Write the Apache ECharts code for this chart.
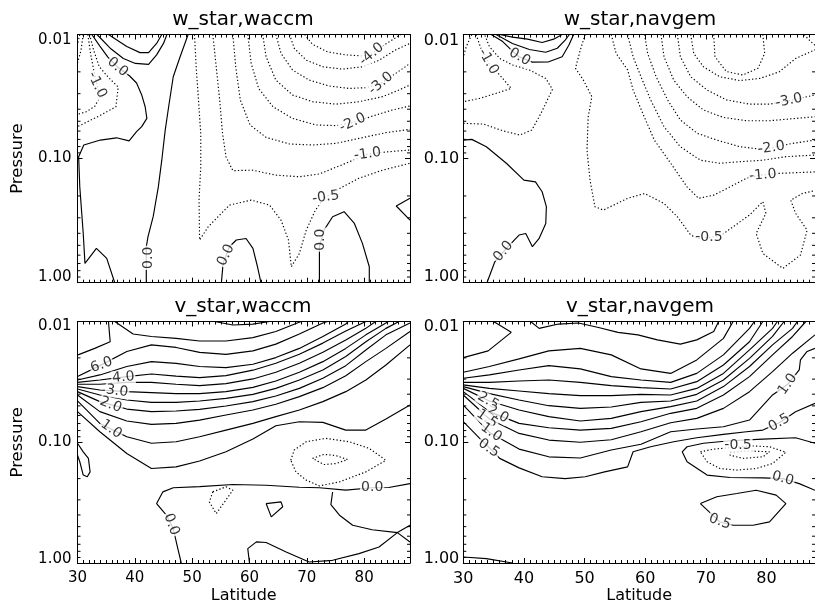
<!DOCTYPE html>
<html><head><meta charset="utf-8">
<script src="https://cdn.jsdelivr.net/npm/echarts@6/dist/echarts.min.js"></script>
<style>html,body{margin:0;padding:0;background:#fff}#c{width:815px;height:611px}</style>
</head><body><div id="c"></div>
<script>
// ---------- axes / ticks ----------
const LAT_MIN = 30, LAT_MAX = 88;
const LAT_TICKS = [30, 40, 50, 60, 70, 80];
const P_TICKS = [0.01, 0.10, 1.00];
const P_MINOR = [0.02,0.03,0.04,0.05,0.06,0.07,0.08,0.09,0.2,0.3,0.4,0.5,0.6,0.7,0.8,0.9];
const TITLES = ['w_star,waccm', 'w_star,navgem', 'v_star,waccm', 'v_star,navgem'];

// ---------- w_star, waccm : solid (>=0) contours [lat, pressure] ----------
const ww_p1 = [[35.4,0.0100],[38.6,0.0125],[40.9,0.0140],[42.4,0.0140],[43.8,0.0118],[44.7,0.0100]];
const ww_p2 = [[33.4,0.0100],[35.7,0.0129],[38.0,0.0156],[40.1,0.0171],[42.4,0.0174],[43.8,0.0146],[45.0,0.0118],[45.6,0.0100]];
const ww_z1 = [[32.5,0.0100],[33.9,0.0124],[35.3,0.0152],[37.0,0.0183],[39.1,0.0216],[40.3,0.0246],[41.2,0.0307],[41.8,0.0382],[42.1,0.0474],[41.2,0.0553],[40.3,0.0607],[39.0,0.0720],[36.8,0.0680],[34.0,0.0709],[31.1,0.0777],[30.2,0.0965],[30.4,0.169],[31.0,0.401],[31.3,0.699],[33.3,0.529],[35.1,0.637],[36.5,1.0]];
const ww_z2 = [[49.3,0.0100],[47.9,0.0151],[46.7,0.0219],[45.9,0.0382],[45.3,0.0589],[44.7,0.103],[44.1,0.169],[43.2,0.294],[42.3,0.426],[42.0,0.513],[42.0,1.0]];
const ww_z3 = [[55.1,1.0],[55.4,0.699],[56.5,0.513],[57.7,0.453],[59.4,0.440],[60.6,0.529],[61.4,0.744],[62.0,1.0]];
const ww_z4 = [[72.2,1.0],[72.2,0.513],[73.0,0.377],[74.5,0.294],[76.5,0.268],[78.3,0.333],[79.7,0.482],[80.9,0.744],[80.9,1.0]];
const ww_z5 = [[88,0.209],[85.6,0.241],[88,0.313]];
// dotted (<0)
const ww_n1 = [[30.4,0.0100],[30.0,0.0120]];
const ww_n2 = [[31.0,0.0100],[30.6,0.0135],[30.0,0.0170]];
const ww_n3 = [[31.8,0.0100],[32.3,0.0145],[32.9,0.0200],[33.4,0.0255],[33.9,0.0320],[33.0,0.0380],[31.5,0.0420],[30.0,0.0440]];
const ww_n4 = [[32.1,0.0100],[32.8,0.0133],[33.8,0.0182],[35.4,0.0222],[37.1,0.0265],[36.7,0.0382],[33.9,0.0450],[30.0,0.0553]];
const ww_m05 = [[50.4,0.0100],[50.7,0.0182],[51.1,0.0337],[51.5,0.0626],[51.5,0.116],[51.2,0.216],[51.3,0.453],[52.8,0.354],[56.5,0.237],[60.3,0.216],[63.5,0.237],[65.5,0.313],[66.8,0.453],[67.3,0.744],[68.7,0.581],[69.9,0.377],[71.5,0.260],[73.0,0.209],[75.7,0.174],[79.1,0.144],[83.2,0.124],[88,0.109]];
const ww_m10 = [[53.6,0.0100],[54.2,0.0182],[54.8,0.0337],[55.3,0.0626],[55.9,0.0965],[57.1,0.125],[60.6,0.124],[64.6,0.136],[68.7,0.140],[72.2,0.133],[76.8,0.109],[80.6,0.0919],[84.4,0.0879],[88,0.0853]];
const ww_m15 = [[57.1,0.0100],[57.6,0.0182],[58.4,0.0337],[60.1,0.0536],[62.9,0.0675],[67.0,0.0763],[71.0,0.0777],[75.1,0.0754],[79.1,0.0687],[83.8,0.0618],[88,0.0581]];
const ww_m20 = [[59.7,0.0100],[60.3,0.0171],[61.6,0.0272],[64.1,0.0382],[67.5,0.0474],[71.6,0.0536],[75.1,0.0542],[78.0,0.0513],[81.5,0.0454],[84.9,0.0406],[88,0.0377]];
const ww_m25 = [[62.3,0.0100],[62.9,0.0151],[64.6,0.0233],[67.5,0.0307],[71.0,0.0348],[75.1,0.0364],[79.1,0.0348],[83.2,0.0317],[86.1,0.0280],[88,0.0255]];
const ww_m30 = [[64.6,0.0100],[65.5,0.0142],[67.5,0.0193],[70.4,0.0233],[73.9,0.0260],[77.4,0.0272],[80.3,0.0268],[82.9,0.0248],[85.5,0.0206],[88,0.0171]];
const ww_m35 = [[67.0,0.0100],[67.8,0.0129],[69.9,0.0161],[72.8,0.0182],[76.2,0.0190],[79.7,0.0182],[82.6,0.0161],[85.5,0.0133],[88,0.0118]];
const ww_m40 = [[69.6,0.0100],[71.0,0.0120],[73.6,0.0138],[76.8,0.0146],[79.7,0.0149],[81.3,0.0144],[83.8,0.0119],[86.4,0.0100]];
const ww_labels = [[37.0,0.0183,'0.0',-40],[42.3,0.63,'0.0',90],[55.9,0.60,'0.0',65],[72.3,0.45,'0.0',90],[33.4,0.0255,'-1.0',-65],[73.3,0.205,'-0.5',8],[80.6,0.092,'-1.0',8],[78.0,0.0513,'-2.0',25],[82.9,0.0248,'-3.0',40],[81.3,0.0144,'-4.0',40]];

// ---------- w_star, navgem ----------
const wn_p1 = [[36.0,0.0100],[38.1,0.0105],[40.6,0.0109],[43.0,0.0116],[44.9,0.0109],[46.3,0.0100]];
const wn_p2 = [[35.4,0.0100],[38.1,0.0118],[40.9,0.0132],[43.6,0.0139],[45.5,0.0129],[46.8,0.0111],[47.5,0.0100]];
const wn_z1 = [[34.6,0.0100],[36.5,0.0114],[37.9,0.0133],[39.2,0.0151],[41.4,0.0167],[44.1,0.0166],[46.3,0.0151],[47.4,0.0122],[48.2,0.0100]];
const wn_z2 = [[30.0,0.0709],[31.4,0.0700],[33.8,0.0802],[37.1,0.109],[40.0,0.149],[41.9,0.154],[43.0,0.185],[43.7,0.244],[43.6,0.333],[42.5,0.440],[41.4,0.513],[40.3,0.401],[39.2,0.413],[37.1,0.529],[35.2,0.678],[33.9,1.0]];
const wn_n1 = [[31.4,0.0100],[30.5,0.0125],[30.0,0.0151]];
const wn_n2 = [[32.1,0.0100],[33.0,0.0133],[34.2,0.0171],[36.0,0.0212],[37.9,0.0272],[35.4,0.0298],[32.7,0.0327],[30.0,0.0348]];
const wn_n3 = [[30.0,0.0520],[33.3,0.0527],[36.5,0.0596],[39.3,0.0646],[41.3,0.0589],[42.8,0.0432],[44.7,0.0277],[43.6,0.0226],[40.9,0.0193],[38.1,0.0176],[36.0,0.0156],[34.3,0.0125],[33.5,0.0100]];
const wn_m05 = [[50.1,0.0100],[49.3,0.0133],[48.5,0.0187],[49.8,0.0233],[51.2,0.0317],[50.6,0.0460],[50.4,0.0853],[50.9,0.149],[51.7,0.244],[53.1,0.260],[57.1,0.209],[59.9,0.191],[63.1,0.230],[65.3,0.294],[67.5,0.413],[68.8,0.440],[70.7,0.432],[72.6,0.413],[74.5,0.354],[77.2,0.285],[79.4,0.222],[79.9,0.276],[78.3,0.401],[79.4,0.581],[82.7,0.767],[85.6,0.599],[86.7,0.377],[84.8,0.276],[84.0,0.216],[85.9,0.191],[88,0.181]];
const wn_m10 = [[54.4,0.0100],[55.2,0.0142],[57.1,0.0193],[58.0,0.0280],[59.6,0.0432],[61.5,0.0709],[64.2,0.109],[66.9,0.169],[68.8,0.209],[71.3,0.197],[74.0,0.169],[76.7,0.144],[78.9,0.136],[82.1,0.1315],[88,0.128]];
const wn_m15 = [[57.1,0.0100],[58.0,0.0151],[59.3,0.0219],[60.9,0.0337],[63.1,0.0553],[65.8,0.0802],[69.1,0.103],[72.3,0.109],[75.6,0.106],[79.4,0.103],[83.2,0.0965],[88,0.0936]];
const wn_m20 = [[59.9,0.0100],[60.4,0.0142],[61.8,0.0219],[63.7,0.0337],[65.8,0.0489],[68.6,0.0626],[71.8,0.0709],[75.6,0.0802],[78.9,0.0838],[80.8,0.0819],[84.3,0.0754],[88,0.0709]];
const wn_m25 = [[62.6,0.0100],[63.1,0.0151],[64.7,0.0233],[66.9,0.0317],[69.6,0.0406],[72.9,0.0466],[76.7,0.0495],[80.5,0.0495],[84.3,0.0477],[88,0.0460]];
const wn_m30 = [[65.3,0.0100],[65.8,0.0151],[67.5,0.0219],[70.2,0.0280],[73.4,0.0337],[77.2,0.0364],[80.5,0.0364],[83.7,0.0341],[88,0.0307]];
const wn_m35 = [[67.5,0.0100],[68.0,0.0142],[69.6,0.0182],[72.3,0.0219],[75.6,0.0235],[78.9,0.0226],[82.1,0.0200],[84.8,0.0156],[88,0.0133]];
const wn_m40 = [[71.3,0.0100],[71.5,0.0151],[73.4,0.0199],[76.1,0.0212],[78.6,0.0187],[79.7,0.0142],[79.4,0.0100]];
const wn_m45 = [[86.2,0.0100],[87.3,0.0114],[88,0.0122]];
const wn_labels = [[39.3,0.0152,'0.0',-30],[36.6,0.56,'0.0',50],[34.1,0.0165,'-1.0',-60],[70.5,0.433,'-0.5',0],[79.4,0.136,'-1.0',5],[80.8,0.0819,'-2.0',8],[83.7,0.0341,'-3.0',12]];

// ---------- v_star, waccm ----------
const vw_a = [[30.1,0.0189],[33.0,0.0167],[35.7,0.0147],[35.4,0.0100]];
const vw_b = [[36.5,0.0100],[39.7,0.0127],[42.9,0.0133],[47.2,0.0138],[51.3,0.0145],[55.9,0.0145],[60.6,0.0136],[64.6,0.0121],[69.0,0.0100]];
const vw_c = [[53.9,0.0100],[57.1,0.0107],[60.6,0.0105],[63.5,0.0100]];
const vw_60 = [[30,0.0286],[33.9,0.0232],[38.6,0.0177],[42.9,0.0156],[47.2,0.0164],[51.3,0.0180],[55.9,0.0187],[60.6,0.0175],[64.6,0.0154],[68.7,0.0127],[72.8,0.0103],[73.6,0.0100]];
const vw_50 = [[30,0.0305],[33.9,0.0277],[38.6,0.0236],[42.9,0.0215],[47.2,0.0222],[51.3,0.0236],[55.9,0.0241],[60.6,0.0226],[64.6,0.0199],[68.7,0.0167],[72.8,0.0133],[76.8,0.0105],[77.2,0.0100]];
const vw_40 = [[30,0.0319],[33.9,0.0305],[38.6,0.0286],[42.9,0.0272],[47.2,0.0283],[51.3,0.0292],[55.9,0.0281],[60.6,0.0253],[64.6,0.0222],[68.7,0.0187],[72.8,0.0151],[76.8,0.0120],[80.3,0.0100]];
const vw_35 = [[30,0.0331],[33.9,0.0331],[38.6,0.0319],[42.9,0.0319],[47.2,0.0331],[51.3,0.0340],[55.9,0.0327],[60.6,0.0299],[64.6,0.0263],[68.7,0.0222],[72.8,0.0180],[76.8,0.0142],[80.3,0.0114],[82.0,0.0100]];
const vw_30 = [[30,0.0346],[33.9,0.0369],[38.6,0.0381],[42.9,0.0388],[47.2,0.0396],[51.3,0.0396],[55.9,0.0381],[60.6,0.0351],[64.6,0.0311],[68.7,0.0263],[72.8,0.0215],[76.8,0.0167],[80.3,0.0129],[83.8,0.0103],[84.2,0.0100]];
const vw_25 = [[30,0.0362],[33.9,0.0406],[38.6,0.0447],[42.9,0.0467],[47.2,0.0467],[51.3,0.0455],[55.9,0.0433],[60.6,0.0401],[64.6,0.0358],[68.7,0.0305],[72.8,0.0252],[76.8,0.0195],[80.3,0.0147],[83.8,0.0114],[86.1,0.0100]];
const vw_20 = [[30,0.0381],[33.9,0.0461],[38.6,0.0531],[42.9,0.0558],[47.2,0.0551],[51.3,0.0534],[55.9,0.0501],[60.6,0.0461],[64.6,0.0414],[68.7,0.0358],[72.8,0.0295],[76.8,0.0232],[80.3,0.0172],[83.8,0.0129],[88,0.0103]];
const vw_15 = [[30,0.0406],[33.9,0.0558],[38.6,0.0667],[42.9,0.0711],[47.2,0.0698],[51.3,0.0655],[55.9,0.0595],[60.6,0.0541],[64.6,0.0485],[68.7,0.0419],[72.8,0.0353],[76.8,0.0281],[80.3,0.0215],[83.8,0.0167],[88,0.0121]];
const vw_10 = [[30,0.0455],[33.9,0.0698],[38.6,0.0900],[42.9,0.102],[47.2,0.0990],[51.3,0.0900],[55.9,0.0793],[60.6,0.0698],[64.6,0.0614],[68.7,0.0541],[72.8,0.0461],[76.8,0.0381],[80.3,0.0305],[83.8,0.0229],[88,0.0156]];
const vw_05 = [[30,0.0558],[33.9,0.0818],[38.6,0.124],[42.9,0.165],[47.2,0.160],[51.3,0.143],[55.9,0.120],[60.6,0.0941],[64.6,0.0730],[68.7,0.0676],[72.8,0.0685],[76.8,0.0793],[80.3,0.0793],[83.8,0.0642],[88,0.0492]];
const vw_bump = [[30,0.102],[31.0,0.120],[31.9,0.136],[32.2,0.176],[31.7,0.193],[31.0,0.187],[30.4,0.145],[30,0.128]];
const vw_z1 = [[48.1,1.0],[47.5,0.760],[46.7,0.519],[45.5,0.402],[43.8,0.322],[44.9,0.2575],[46.7,0.238],[51.3,0.233],[57.1,0.224],[62.9,0.227],[68.7,0.236],[72.2,0.238],[76.8,0.2495],[81.4,0.238],[84.3,0.237],[88,0.220]];
const vw_z2 = [[74.5,0.258],[74.2,0.329],[75.7,0.402],[78.0,0.487],[81.4,0.530],[85.8,0.560],[88,0.669]];
const vw_z3 = [[60.0,1.0],[59.7,0.760],[61.2,0.669],[62.9,0.677],[66.4,0.810],[70.4,0.981],[74.5,0.950],[79.1,0.837],[82.6,0.737],[85.8,0.560],[88,0.487]];
const vw_tri = [[62.9,0.322],[65.5,0.312],[65.8,0.342],[63.8,0.415],[62.9,0.322]];
const vw_n1 = [[67.2,0.141],[67.8,0.116],[69.9,0.099],[73.3,0.0929],[77.4,0.099],[80.9,0.1125],[83.8,0.141],[80.3,0.176],[75.7,0.213],[72.2,0.230],[69.9,0.206],[68.1,0.176],[67.2,0.141]];
const vw_n2 = [[71.0,0.136],[73.0,0.126],[75.1,0.129],[77.1,0.139],[75.1,0.150],[73.0,0.153],[71.0,0.136]];
const vw_n3 = [[53.6,0.2575],[55.9,0.234],[57.1,0.2495],[54.2,0.390],[53.0,0.312],[53.6,0.2575]];
const vw_labels = [[34.2,0.0229,'6.0',20],[38.0,0.0291,'4.0',5],[36.9,0.0377,'3.0',-8],[35.8,0.049,'2.0',-22],[35.9,0.078,'1.0',-35],[46.4,0.48,'0.0',-70],[81.4,0.238,'0.0',0]];

// ---------- v_star, navgem ----------
const vn_t1 = [[41.1,0.0100],[42.5,0.0114],[45.7,0.0105],[49.0,0.0103],[52.3,0.0112],[55.5,0.0123],[58.8,0.0129],[62.0,0.0142],[65.8,0.0154],[68.5,0.0142],[71.3,0.0121],[72.1,0.0100]];
const vn_w = [[30,0.0199],[34.1,0.0175],[37.9,0.0123],[35.4,0.0103],[34.9,0.0100]];
const vn_t2 = [[30,0.0263],[34.3,0.0236],[39.2,0.0204],[44.1,0.0175],[49.3,0.0167],[54.4,0.0189],[59.3,0.0247],[64.2,0.0269],[68.5,0.0208],[72.9,0.0138],[74.5,0.0100]];
const vn_45 = [[30,0.0295],[34.3,0.0277],[39.2,0.0252],[44.1,0.0232],[49.3,0.0247],[54.4,0.0286],[59.3,0.0305],[64.2,0.0319],[68.5,0.0269],[72.9,0.0189],[77.2,0.0114],[78.0,0.0100]];
const vn_40 = [[30,0.0319],[34.3,0.0319],[39.2,0.0311],[44.1,0.0305],[49.3,0.0319],[54.4,0.0340],[59.3,0.0353],[64.2,0.0362],[68.5,0.0315],[72.9,0.0229],[77.2,0.0147],[79.4,0.0100]];
const vn_35 = [[30,0.0335],[34.3,0.0358],[39.2,0.0376],[44.1,0.0396],[49.3,0.0411],[54.4,0.0411],[59.3,0.0401],[64.2,0.0406],[68.5,0.0358],[72.9,0.0269],[77.2,0.0172],[81.0,0.0114],[81.8,0.0100]];
const vn_30 = [[30,0.0346],[34.3,0.0396],[39.2,0.0447],[44.1,0.0498],[49.3,0.0524],[54.4,0.0511],[59.3,0.0467],[64.2,0.0455],[68.5,0.0401],[72.9,0.0305],[77.2,0.0202],[81.0,0.0133],[82.9,0.0100]];
const vn_25 = [[30,0.0358],[34.3,0.0455],[39.2,0.0541],[44.1,0.0614],[49.3,0.0667],[54.4,0.0634],[59.3,0.0558],[64.2,0.0507],[68.5,0.0455],[72.9,0.0346],[77.2,0.0236],[81.0,0.0156],[84.3,0.0114],[85.1,0.0100]];
const vn_20 = [[30,0.0381],[34.3,0.0558],[39.2,0.0698],[44.1,0.0758],[49.3,0.0793],[54.4,0.0768],[59.3,0.0676],[64.2,0.0576],[68.5,0.0524],[72.9,0.0406],[77.2,0.0286],[81.0,0.0189],[84.3,0.0133],[86.5,0.0100]];
const vn_15 = [[30,0.0406],[34.3,0.0642],[39.2,0.0845],[44.1,0.0959],[49.3,0.100],[54.4,0.0953],[59.3,0.0818],[64.2,0.0689],[68.5,0.0634],[72.9,0.0524],[77.2,0.0381],[81.0,0.0260],[84.3,0.0183],[88,0.0129]];
const vn_10 = [[30,0.0492],[34.3,0.0829],[39.2,0.114],[44.1,0.132],[49.3,0.135],[54.4,0.116],[59.3,0.104],[64.2,0.0818],[68.5,0.0777],[72.9,0.0744],[77.2,0.0655],[81.0,0.0406],[83.5,0.0331],[85.4,0.0252],[85.6,0.0208],[86.7,0.0177],[88,0.0167]];
const vn_05 = [[30,0.0676],[32.7,0.0929],[34.3,0.111],[36.0,0.136],[39.2,0.163],[43.0,0.193],[46.8,0.200],[50.1,0.193],[53.3,0.176],[57.1,0.160],[58.0,0.120],[60.9,0.109],[64.7,0.0990],[68.5,0.0918],[72.9,0.0861],[76.7,0.0818],[79.4,0.0793],[82.1,0.0689],[84.8,0.0558],[88,0.0476]];
const vn_z1 = [[88,0.102],[84.8,0.0918],[79.4,0.0941],[74.0,0.0972],[69.6,0.102],[66.9,0.109],[66.1,0.120],[66.9,0.145],[70.2,0.187],[74.0,0.196],[79.4,0.197],[82.7,0.200],[85.4,0.220],[88,0.250]];
const vn_bub = [[69.1,0.322],[71.8,0.283],[75.1,0.266],[78.3,0.2495],[81.6,0.274],[83.2,0.322],[80.5,0.457],[77.8,0.487],[74.5,0.487],[72.3,0.457],[69.1,0.322]];
const vn_bl = [[30,0.892],[33.8,0.920],[38.1,1.0]];
const vn_n1 = [[69.1,0.120],[71.3,0.114],[74.0,0.111],[77.2,0.107],[80.5,0.109],[83.2,0.121],[81.0,0.150],[78.3,0.165],[75.1,0.170],[72.3,0.165],[70.2,0.145],[69.1,0.120]];
const vn_n2 = [[74.0,0.121],[77.2,0.118],[80.5,0.120],[79.4,0.132],[76.1,0.136],[74.0,0.128],[74.0,0.121]];
const vn_labels = [[34.1,0.0455,'2.5',-30],[35.7,0.0585,'2.0',-30],[33.9,0.064,'1.5',-35],[34.6,0.083,'1.0',-35],[34.2,0.112,'0.5',-35],[83.5,0.0331,'1.0',55],[82.1,0.069,'0.5',30],[75.3,0.107,'-0.5',0],[82.7,0.200,'0.0',-15],[72.3,0.455,'0.5',-20]];

// ---------- panel assembly ----------
const PANEL_DATA = [
  {pos:[ww_p1,ww_p2,ww_z1,ww_z2,ww_z3,ww_z4,ww_z5], neg:[ww_n1,ww_n2,ww_n3,ww_n4,ww_m05,ww_m10,ww_m15,ww_m20,ww_m25,ww_m30,ww_m35,ww_m40], labels:ww_labels},
  {pos:[wn_p1,wn_p2,wn_z1,wn_z2], neg:[wn_n1,wn_n2,wn_n3,wn_m05,wn_m10,wn_m15,wn_m20,wn_m25,wn_m30,wn_m35,wn_m40,wn_m45], labels:wn_labels},
  {pos:[vw_a,vw_b,vw_c,vw_60,vw_50,vw_40,vw_35,vw_30,vw_25,vw_20,vw_15,vw_10,vw_05,vw_bump,vw_z1,vw_z2,vw_z3,vw_tri], neg:[vw_n1,vw_n2,vw_n3], labels:vw_labels},
  {pos:[vn_t1,vn_w,vn_t2,vn_45,vn_40,vn_35,vn_30,vn_25,vn_20,vn_15,vn_10,vn_05,vn_z1,vn_bub,vn_bl], neg:[vn_n1,vn_n2], labels:vn_labels}
];

const FONT = 'DejaVu Sans';
const LAYOUT = [
  {left:77.5, top:34.5, width:332.5, height:248.2, tx:243, ty:20, fs:15, lm:6, yName:true, xLab:false, sTop:6, sBot:5.5},
  {left:463.3, top:34.5, width:356.1, height:248.2, tx:640, ty:20, fs:16, lm:4, yName:false, xLab:false, sTop:6, sBot:5.5},
  {left:77.5, top:321.5, width:332.5, height:241.5, tx:243, ty:306.5, fs:15, lm:6, yName:true, xLab:true, sTop:5, sBot:4},
  {left:463.3, top:321.5, width:356.1, height:241.5, tx:640, ty:306.5, fs:16, lm:4, yName:false, xLab:true, sTop:5, sBot:4}
];
const DOT = [1.3, 2.2];
const LW = 1.15;

const grids = [], xAxes = [], yAxes = [], series = [], graphics = [];

function xAxisCfg(g, L, pos) {
  const showLab = pos === 'bottom' && L.xLab;
  return {
    type:'value', gridIndex:g, position:pos, min:LAT_MIN, max:LAT_MAX,
    interval:LAT_TICKS[1]-LAT_TICKS[0],
    axisLine:{show:true, onZero:false, lineStyle:{color:'#000', width:1}},
    axisTick:{show:true, inside:true, length:5, lineStyle:{color:'#000', width:1}},
    minorTick:{show:true, splitNumber:10, length:3, lineStyle:{color:'#000', width:1}},
    splitLine:{show:false}, minorSplitLine:{show:false},
    axisLabel:{show:showLab, color:'#000', fontSize:L.fs, fontFamily:FONT, margin:8, showMaxLabel:false,
      formatter: v => (LAT_TICKS.indexOf(Math.round(v)) >= 0 ? String(Math.round(v)) : '')},
    name: showLab ? 'Latitude' : '', nameLocation:'middle', nameGap:25,
    nameTextStyle:{color:'#000', fontSize:16, fontFamily:FONT}
  };
}
function yAxisCfg(g, L, pos) {
  const left = pos === 'left';
  return {
    type:'log', logBase:10, gridIndex:g, position:pos, inverse:true,
    min:P_TICKS[0], max:P_TICKS[P_TICKS.length-1],
    axisLine:{show:true, onZero:false, lineStyle:{color:'#000', width:1}},
    axisTick:{show:true, inside:true, length:5, lineStyle:{color:'#000', width:1}},
    minorTick:{show:false}, splitLine:{show:false},
    axisLabel:{show:left, color:'#000', fontSize:L.fs, fontFamily:FONT, margin:L.lm,
      formatter: v => {
        const s = Number(v).toFixed(2);
        if (s === P_TICKS[0].toFixed(2)) return '{a|' + s + '}';
        if (s === P_TICKS[P_TICKS.length-1].toFixed(2)) return '{b|' + s + '}';
        return s;
      },
      rich:{
        a:{padding:[L.sTop*2,0,0,0], fontSize:L.fs, fontFamily:FONT, color:'#000'},
        b:{padding:[0,0,L.sBot*2,0], fontSize:L.fs, fontFamily:FONT, color:'#000'}
      }},
    name: (left && L.yName) ? 'Pressure' : '', nameLocation:'middle', nameGap:51, nameRotate:90,
    nameTextStyle:{color:'#000', fontSize:16.5, fontFamily:FONT}
  };
}

PANEL_DATA.forEach((pd, g) => {
  const L = LAYOUT[g];
  grids.push({left:L.left, top:L.top, width:L.width, height:L.height, show:false});
  xAxes.push(xAxisCfg(g, L, 'bottom'), xAxisCfg(g, L, 'top'));
  yAxes.push(yAxisCfg(g, L, 'left'), yAxisCfg(g, L, 'right'));
  const xi = 2*g, yi = 2*g;
  const mk = (d, type) => ({
    type:'line', xAxisIndex:xi, yAxisIndex:yi, data:d, symbol:'none', showSymbol:false,
    lineStyle:{color:'#000', width:LW, type:type}, silent:true, animation:false, z:2, clip:true
  });
  pd.pos.forEach(d => series.push(mk(d, 'solid')));
  pd.neg.forEach(d => series.push(mk(d, DOT)));
  series.push({
    type:'scatter', xAxisIndex:xi, yAxisIndex:yi, symbolSize:1, itemStyle:{color:'rgba(0,0,0,0)'},
    silent:true, animation:false, z:6,
    label:{show:true, position:'inside', color:'#000', fontSize:14, fontFamily:FONT,
      backgroundColor:'#fff', padding:[0,1]},
    data: pd.labels.map(l => ({value:[l[0], l[1]], label:{formatter:l[2], rotate:l[3]}}))
  });
  series.push({
    type:'custom', xAxisIndex:xi, yAxisIndex:yi, silent:true, animation:false, z:7, clip:false,
    data: P_MINOR.map(p => [LAT_MIN, p]),
    encode:{x:0, y:1},
    renderItem: (params, api) => {
      const p = api.value(1);
      const a = api.coord([LAT_MIN, p]);
      const b = api.coord([LAT_MAX, p]);
      return {type:'group', children:[
        {type:'line', shape:{x1:a[0], y1:a[1], x2:a[0]+3, y2:a[1]}, style:{stroke:'#000', lineWidth:1}},
        {type:'line', shape:{x1:b[0]-3, y1:b[1], x2:b[0], y2:b[1]}, style:{stroke:'#000', lineWidth:1}}
      ]};
    }
  });
  graphics.push({type:'text', x:L.tx, y:L.ty, z:10,
    style:{text:TITLES[g], fill:'#000', font:'20px "DejaVu Sans"', textAlign:'center', textVerticalAlign:'middle', align:'center', verticalAlign:'middle'}});
});

const chart = echarts.init(document.getElementById('c'), null, {renderer:'canvas', width:815, height:611});
chart.setOption({
  animation:false,
  backgroundColor:'#fff',
  grid:grids, xAxis:xAxes, yAxis:yAxes, series:series, graphic:graphics
});
</script></body></html>
